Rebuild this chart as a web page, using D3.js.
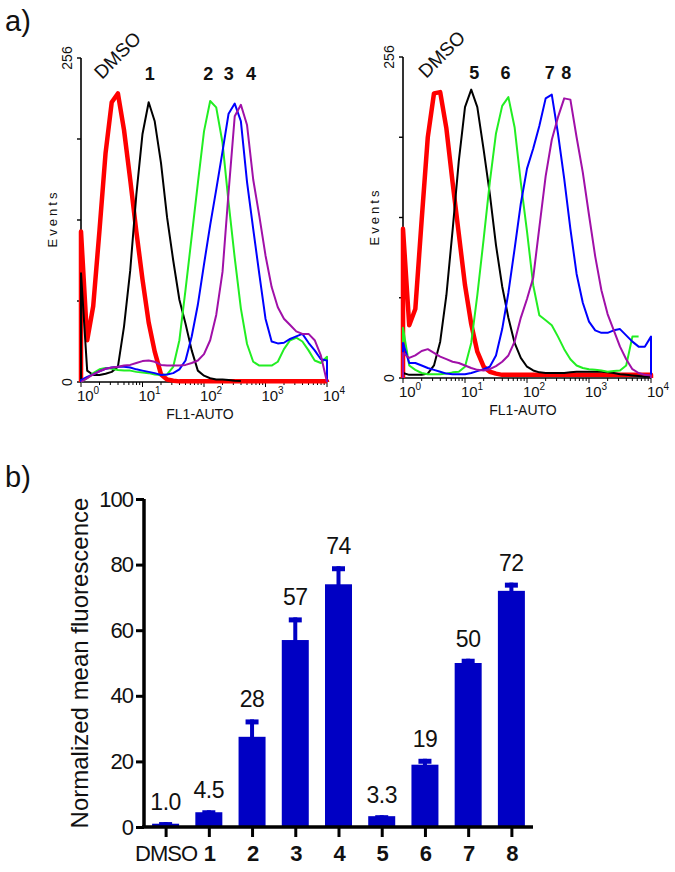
<!DOCTYPE html>
<html>
<head>
<meta charset="utf-8">
<script src="https://cdn.jsdelivr.net/npm/d3@7/dist/d3.min.js"></script>
<style>
  body { margin: 0; background: #fff; }
  svg { display: block; }
  text { font-family: "Liberation Sans", Arial, sans-serif; fill: #111; }
</style>
</head>
<body>
<div id="chart"></div>
<script>
// ---- data -------------------------------------------------------------

// FL1 channel grid (read at 1/10 decade)
const channels = [1, 1.26, 1.58, 2, 2.51, 3.16, 3.98, 5.01, 6.31, 7.94,
  10, 12.6, 15.8, 20, 25.1, 31.6, 39.8, 50.1, 63.1, 79.4,
  100, 126, 158, 200, 251, 316, 398, 501, 631, 794,
  1000, 1259, 1585, 1995, 2512, 3162, 3981, 5012, 6310, 7943, 10000]

// left histogram (DMSO, 1, 2, 3, 4)
const leftDMSO = [119, 33, 60, 120, 181, 221, 228, 199, 160, 119,
  81, 47, 24, 6, 2, 1, 0.5, 0.5, 0.5, 0.5,
  0.5, 0.5, 0.5, 0.5, 0.5, 0.5, 0.5, 0.5, 0.5, 0.5,
  0.5, 0.5, 0.5, 0.5, 0.5, 0.5, 0.5, 0.5, 0.5, 0.5, 0.5]
const left1 = [86, 9, 5.5, 5.5, 6.5, 8, 12, 44, 88, 148,
  196, 221, 206, 173, 130, 96, 65, 46, 25, 9,
  5, 3, 2, 2, 1.5, 1, 0.8, null, null, null,
  null, null, null, null, null, null, null, null, null, null, null]
const left2 = [0, 3, 7, 10, 11, 10.5, 9.5, 9, 9, 8,
  7.5, 7, 6, 5.5, 6, 12, 33, 73, 115, 157,
  198, 222, 217, 189, 142, 98, 58, 30, 16, 13,
  13, 13, 16, 26, 33, 35, 32, 25, 17, 15, 20]
const left3 = [1.5, 4, 6, 8.5, 10.5, 11.5, 12, 12, 11.5, 10,
  9, 8, 7, 5.5, 6, 7, 10, 17, 36, 61,
  93, 124, 152, 182, 212, 220, 206, 158, 121, 85,
  50, 32, 30.5, 31, 34, 36, 38, 31, 25, 18, 17]
const left4 = [0, 3, 6, 8.5, 10.5, 11.5, 12, 13, 13.5, 15,
  16.5, 17, 16, 13.5, 13, 13, 13, 13.5, 15, 17,
  22, 33, 53, 87, 150, 210, 219, 203, 160, 131,
  100, 75, 59, 50, 45, 40, 38, 38, 33, 21, 0]

// right histogram (DMSO, 5, 6, 7, 8)
const rightDMSO = [119, 42, 55, 126, 192, 227, 228, 199, 156, 115,
  74, 43, 21, 9, 5, 3.5, 2.5, 2.5, 2.5, 2.5,
  2.5, 2.5, 2.5, 2.5, 2.5, 2.5, 2.5, 2.5, 2.5, 2.5,
  2.5, 2.5, 2.5, 2.5, 2.5, 2.5, 2.5, 2.5, 2.5, 2.5, 2.5]
const right5 = [4, 2.5, 2.5, 2.5, 3.5, 10, 29, 66, 118, 173,
  216, 230, 216, 182, 147, 106, 73, 48, 28, 16,
  9, 6, 4.5, 4, 4, 4, 4, 4.5, 5, 5,
  5, 5, 5, 4.5, 4, 3, 2.5, 2, 1.5, 1, 1]
const right6 = [40, 10, 6.5, 4, 3, 3, 3, 3.5, 4.5, 5,
  9, 28, 66, 111, 156, 195, 217, 224, 200, 156,
  117, 74, 50, 46, 42, 33, 23, 15, 10, 8,
  7, 6.5, 6, 5, 5.5, 6, 10, 33, 33, null, null]
const right7 = [28, 12, 12, 10, 8, 6.5, 5, 3.5, 3, 3,
  3, 4, 5.5, 7, 9, 18, 39, 68, 103, 139,
  167, 183, 201, 223, 226, 195, 159, 119, 83, 60,
  45, 38, 36, 36, 38, 39, 34, 29, 25, 25, 33]
const right8 = [20, 16, 18, 21.5, 23, 20, 17, 15, 13, 12,
  10, 8, 6.5, 6, 7, 9.5, 13, 18, 29, 48,
  63, 80, 120, 161, 190, 208, 223, 222, 192, 164,
  130, 97, 70, 51, 38, 25, 15, 7, 4, 2.5, 2]

const leftNames = ["DMSO", "1", "2", "3", "4"]
const rightNames = ["DMSO", "5", "6", "7", "8"]
const xTickExp = [0, 1, 2, 3, 4]

// bar chart
const barCats = ["DMSO", "1", "2", "3", "4", "5", "6", "7", "8"]
const barMeans = [1.0, 4.5, 27.5, 57, 74, 3.3, 19, 50, 72]
const barErrors = [0.5, 0.6, 5.3, 6.9, 5.5, 0.3, 1.8, 1.3, 2.5]
const barValueText = ["1.0", "4.5", "28", "57", "74", "3.3", "19", "50", "72"]
const barYTicks = [0, 20, 40, 60, 80, 100]

// ---- drawing ----------------------------------------------------------

const W = 675, H = 872
const colors = ["#ff0000", "#000000", "#22ee22", "#0000ff", "#a010a8"]
const widths = [4.5, 2, 2, 2, 2]

const svg = d3.select("#chart").append("svg")
    .attr("width", W)
    .attr("height", H)

svg.append("rect").attr("width", W).attr("height", H).attr("fill", "#fff")

svg.append("text").attr("x", 5).attr("y", 31)
    .style("font-size", "29px").text("a)")
svg.append("text").attr("x", 5).attr("y", 487)
    .style("font-size", "29px").text("b)")

function histogram(cfg) {
    const x = d3.scaleLog().domain([1, 10000]).range([cfg.x0, cfg.x1])
    const y = d3.scaleLinear().domain([0, 256]).range([cfg.yBase, cfg.yTop])
    const g = svg.append("g")

    // y axis
    g.append("line")
        .attr("x1", cfg.x0).attr("x2", cfg.x0)
        .attr("y1", y(256)).attr("y2", y(0))
        .attr("stroke", "#000").attr("stroke-width", 1.6)
    g.selectAll(".ytick").data([0, 64, 128, 192, 256]).enter().append("line")
        .attr("x1", cfg.x0 - 4).attr("x2", cfg.x0)
        .attr("y1", d => y(d)).attr("y2", d => y(d))
        .attr("stroke", "#000").attr("stroke-width", 1.4)
    g.selectAll(".ylab").data([0, 256]).enter().append("text")
        .attr("transform", d => "translate(" + (cfg.x0 - 9) + "," + y(d) + ") rotate(-90)")
        .attr("text-anchor", "middle")
        .style("font-size", "14px")
        .text(d => d)
    g.append("text")
        .attr("transform", "translate(" + (cfg.x0 - 24) + "," + cfg.eventsY + ") rotate(-90)")
        .attr("text-anchor", "middle")
        .attr("textLength", 55)
        .style("font-size", "13px")
        .text("Events")

    // x axis
    g.append("line")
        .attr("x1", cfg.x0).attr("x2", cfg.x1)
        .attr("y1", cfg.yBase).attr("y2", cfg.yBase)
        .attr("stroke", "#000").attr("stroke-width", 1.4)
    g.selectAll(".xtick").data(x.ticks()).enter().append("line")
        .attr("x1", d => x(d)).attr("x2", d => x(d))
        .attr("y1", cfg.yBase)
        .attr("y2", d => cfg.yBase + (xTickExp.some(e => Math.pow(10, e) === d) ? 5 : 3))
        .attr("stroke", "#000").attr("stroke-width", 1)
    const xl = g.selectAll(".xlab").data(xTickExp).enter().append("text")
        .attr("x", d => x(Math.pow(10, d)) + 7)
        .attr("y", cfg.yBase + 19)
        .attr("text-anchor", "middle")
        .style("font-size", "15px")
    xl.append("tspan").text("10")
    xl.append("tspan").attr("dy", -7).style("font-size", "10px").text(d => d)
    g.append("text")
        .attr("x", (cfg.x0 + cfg.x1) / 2 - 4)
        .attr("y", cfg.yBase + 37)
        .attr("text-anchor", "middle")
        .style("font-size", "14px")
        .text("FL1-AUTO")

    // curves
    const line = d3.line()
        .x(d => x(d[0]))
        .y(d => y(d[1]))
    cfg.series.forEach((vals, i) => {
        const pts = [[channels[0], 0]]
        vals.forEach((v, j) => { if (v !== null) pts.push([channels[j], v]) })
        if (vals[vals.length - 1] !== null) pts.push([channels[channels.length - 1], 0])
        g.append("path")
            .attr("d", line(pts))
            .attr("fill", "none")
            .attr("stroke", colors[i])
            .attr("stroke-width", widths[i])
            .attr("stroke-linejoin", "round")
    })

    // peak labels
    cfg.series.forEach((vals, i) => {
        const k = d3.maxIndex(vals)
        const px = x(channels[k]) + cfg.nudge[i]
        if (i === 0) {
            g.append("text")
                .attr("transform", "translate(" + (px - 16) + "," + (cfg.yTop + 22) + ") rotate(-45)")
                .style("font-size", "19px")
                .text(cfg.names[i])
        } else {
            g.append("text")
                .attr("x", px).attr("y", cfg.yTop + 22)
                .attr("text-anchor", "middle")
                .style("font-size", "18px")
                .style("font-weight", "bold")
                .text(cfg.names[i])
        }
    })
}

histogram({
    x0: 81, x1: 327, yTop: 58, yBase: 382, eventsY: 220,
    series: [leftDMSO, left1, left2, left3, left4],
    names: leftNames, nudge: [0, 1, -2, -6, 10]
})
histogram({
    x0: 403, x1: 651, yTop: 57, yBase: 378, eventsY: 218,
    series: [rightDMSO, right5, right6, right7, right8],
    names: rightNames, nudge: [2, 3, -3, -2, 2]
})

// ---- bar chart ----
const bx = d3.scalePoint().domain(barCats).range([144, 533]).padding(0.5)
const by = d3.scaleLinear().domain([0, 100]).range([827, 499])
const barColor = "#0000c4"
const bw = 27

const bars = svg.append("g")

bars.selectAll(".bar").data(barCats).enter().append("rect")
    .attr("x", d => bx(d) - bw / 2)
    .attr("y", (d, i) => by(barMeans[i]))
    .attr("width", bw)
    .attr("height", (d, i) => by(0) - by(barMeans[i]))
    .attr("fill", barColor)

bars.selectAll(".stem").data(barCats).enter().append("rect")
    .attr("x", d => bx(d) - 2)
    .attr("y", (d, i) => by(barMeans[i] + barErrors[i]))
    .attr("width", 4)
    .attr("height", (d, i) => by(barMeans[i]) - by(barMeans[i] + barErrors[i]) + 1)
    .attr("fill", barColor)

bars.selectAll(".cap").data(barCats).enter().append("rect")
    .attr("x", d => bx(d) - 6.5)
    .attr("y", (d, i) => by(barMeans[i] + barErrors[i]))
    .attr("width", 13)
    .attr("height", 5)
    .attr("fill", barColor)

bars.selectAll(".val").data(barCats).enter().append("text")
    .attr("x", d => bx(d))
    .attr("y", (d, i) => by(barMeans[i] + barErrors[i]) - 12)
    .attr("text-anchor", "middle")
    .style("font-size", "23px")
    .style("letter-spacing", "-0.5px")
    .text((d, i) => barValueText[i])

// axes
const yAxis = d3.axisLeft(by).tickValues(barYTicks).tickSize(8).tickPadding(3)
const ya = svg.append("g").attr("transform", "translate(144,0)").call(yAxis)
ya.select(".domain").attr("stroke-width", 3.5).attr("d", "M0," + by(100) + "V" + by(0))
ya.selectAll(".tick line").attr("stroke-width", 3)
ya.selectAll(".tick text")
    .style("font-size", "22px")
    .style("letter-spacing", "-1px")
    .attr("fill", "#111")
    .attr("font-family", null)

const xAxis = d3.axisBottom(bx).tickSize(10).tickPadding(8)
const xa = svg.append("g").attr("transform", "translate(0," + by(0) + ")").call(xAxis)
xa.select(".domain").attr("stroke-width", 3.5).attr("d", "M142,0H533")
xa.selectAll(".tick line").attr("stroke-width", 3)
xa.selectAll(".tick text")
    .style("font-size", "22px")
    .style("letter-spacing", "-1px")
    .style("font-weight", d => d === "DMSO" ? "normal" : "bold")
    .attr("fill", "#111")
    .attr("font-family", null)

svg.append("text")
    .attr("transform", "translate(88," + (by(0) + by(100)) / 2 + ") rotate(-90)")
    .attr("text-anchor", "middle")
    .style("font-size", "24px")
    .text("Normalized mean fluorescence")
</script>
</body>
</html>
